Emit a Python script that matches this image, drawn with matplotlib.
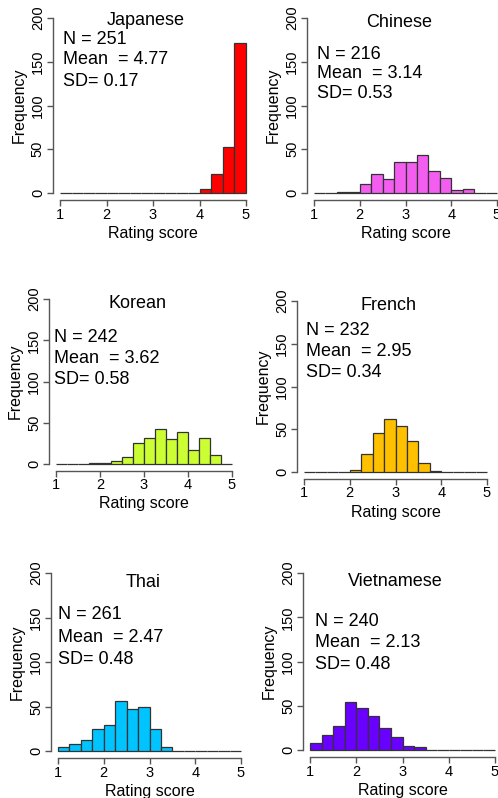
import numpy as np
import matplotlib
matplotlib.use("Agg")
import matplotlib.pyplot as plt

plt.rcParams['font.family'] = ['Liberation Sans', 'DejaVu Sans']

# histogram bins: width 0.25 from 1 to 5
edges = np.arange(1, 5.001, 0.25)

languages = ["Japanese", "Chinese", "Korean", "French", "Thai", "Vietnamese"]
colors = ["#FF0000", "#F45EF0", "#CCFF33", "#FFC000", "#00C4FF", "#6A00FF"]
n_values = [251, 216, 242, 232, 261, 240]
means = ["4.77", "3.14", "3.62", "2.95", "2.47", "2.13"]
sds = ["0.17", "0.53", "0.58", "0.34", "0.48", "0.48"]

counts_japanese = [0, 0, 0, 0, 0, 0, 0, 0, 0, 0, 0, 0, 5, 22, 53, 171]
counts_chinese = [0, 0, 1, 1, 10, 22, 16, 35, 36, 44, 25, 17, 4, 5, 0, 0]
counts_korean = [0, 0, 0, 1, 1, 4, 9, 25, 31, 42, 30, 39, 17, 32, 11, 0]
counts_french = [0, 0, 0, 0, 2, 21, 46, 62, 54, 36, 10, 1, 0, 0, 0, 0]
counts_thai = [4, 8, 12, 25, 29, 56, 47, 50, 25, 5, 0, 0, 0, 0, 0, 0]
counts_vietnamese = [8, 17, 27, 54, 48, 38, 25, 15, 5, 3, 0, 0, 0, 0, 0, 0]
all_counts = [counts_japanese, counts_chinese, counts_korean,
              counts_french, counts_thai, counts_vietnamese]

# per-panel pixel anchors: x of score 1, x of score 5, y of freq 0, y of freq 200
anchors = [(60, 246, 193, 18), (314, 497, 193, 18),
           (56, 232, 464, 299), (304, 487, 472, 301),
           (58, 241, 751, 573), (310, 495, 750, 573)]
# text placement (data coords): N line y, line step, x left
text_pos = [(176, 24, 1.06), (158, 22, 1.07), (153, 25, 0.95),
            (166, 25, 1.04), (153, 25, 1.0), (145, 24, 1.1)]
title_y = [197, 195, 195, 195, 189, 190]

W, H = 498, 798
fig = plt.figure(figsize=(W / 100, H / 100), dpi=100)
axc = "#555555"

for i, lang in enumerate(languages):
    x1, x5, y0, y200 = anchors[i]
    sx = (x5 - x1) / 4.0
    sy = (y0 - y200) / 200.0
    left = x1 - 0.16 * sx
    width = 4.32 * sx
    bottom = y0 + 8 * sy
    height = 216 * sy
    ax = fig.add_axes([left / W, 1 - bottom / H, width / W, height / H])
    ax.set_xlim(0.84, 5.16)
    ax.set_ylim(-8, 208)

    ax.bar(edges[:-1], all_counts[i], width=0.25, align='edge',
           color=colors[i], edgecolor="#333333", linewidth=0.9)

    for s in ["top", "right"]:
        ax.spines[s].set_visible(False)
    ax.spines["left"].set_bounds(0, 200)
    ax.spines["bottom"].set_bounds(1, 5)
    for s in ["left", "bottom"]:
        ax.spines[s].set_color(axc)
        ax.spines[s].set_linewidth(1.0)
    ax.set_xticks([1, 2, 3, 4, 5])
    ax.set_yticks([0, 50, 100, 150, 200])
    ax.tick_params(colors=axc, labelcolor="black", length=4, width=1.0,
                   labelsize=10.5, pad=1.5)
    for lab in ax.get_yticklabels():
        lab.set_rotation(90)
        lab.set_va("center")
    ax.set_xlabel("Rating score", fontsize=11.5, labelpad=3)
    ax.set_ylabel("Frequency", fontsize=11.5, labelpad=3)

    ax.text(2.85, title_y[i], lang, ha="center", va="center", fontsize=13)
    ty, step, tx = text_pos[i]
    ax.text(tx, ty, "N = %d" % n_values[i], ha="left", va="center", fontsize=13)
    ax.text(tx, ty - step, "Mean  = " + means[i], ha="left", va="center", fontsize=13)
    ax.text(tx, ty - 2 * step, "SD= " + sds[i], ha="left", va="center", fontsize=13)

fig.savefig("out.png", dpi=100)
